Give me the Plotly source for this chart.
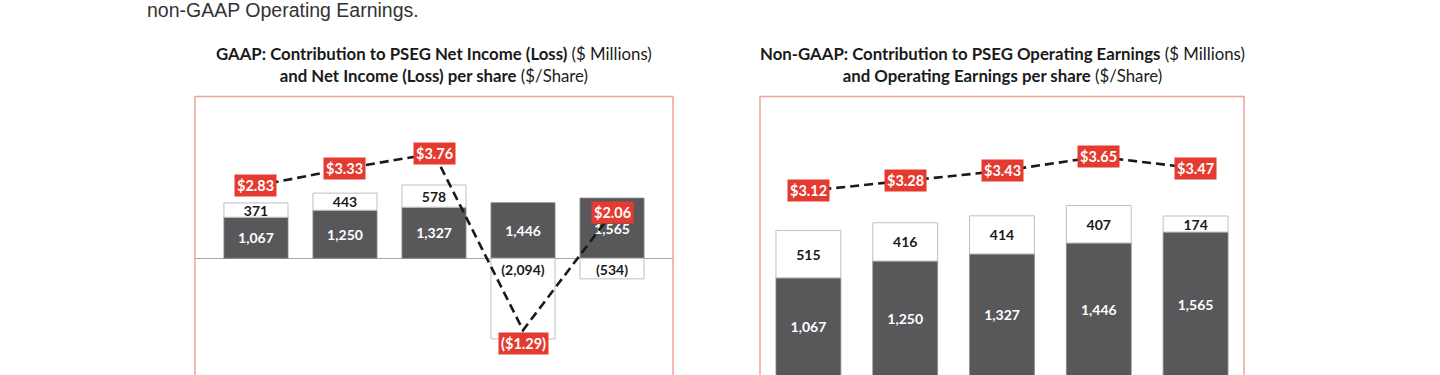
import plotly.graph_objects as go

# ---------------- data ----------------
years = ["2018", "2019", "2020", "2021", "2022"]

# GAAP: contribution to PSEG net income ($ millions)
gaap_pseg = [1067, 1250, 1327, 1446, 1565]
gaap_other = [371, 443, 578, -2094, -534]
gaap_eps = [2.83, 3.33, 3.76, -1.29, 2.06]

# Non-GAAP: contribution to PSEG operating earnings ($ millions)
ng_pseg = [1067, 1250, 1327, 1446, 1565]
ng_other = [515, 416, 414, 407, 174]
ng_eps = [3.12, 3.28, 3.43, 3.65, 3.47]

headline = "non-GAAP Operating Earnings."
title_left = ("<b>GAAP: Contribution to PSEG Net Income (Loss)</b> ($ Millions)<br>"
              "<b>and Net Income (Loss) per share</b> ($/Share)")
title_right = ("<b>Non-GAAP: Contribution to PSEG Operating Earnings</b> ($ Millions)<br>"
               "<b>and Operating Earnings per share</b> ($/Share)")

# ---------------- style ----------------
W, H = 1440, 375
DARK = "#58585A"
RED = "#E53A2F"
BORDER = "#EFA39B"
FONT = "Lato"
LBL = 14


def fmt_m(v):
    return f"({abs(v):,})" if v < 0 else f"{v:,}"


def fmt_eps(v):
    return f"(${abs(v):.2f})" if v < 0 else f"${v:.2f}"


def px_x(p):
    return p / W


def px_y(p):
    return 1 - p / H


fig = go.Figure()

# ---- left (GAAP) ----
fig.add_trace(go.Bar(
    x=years, y=gaap_pseg, xaxis="x", yaxis="y", width=0.72,
    marker=dict(color=DARK, line=dict(color="#8A8A8A", width=0.8)),
    text=[fmt_m(v) for v in gaap_pseg], textposition="inside",
    insidetextanchor="middle", textangle=0,
    textfont=dict(family=FONT, size=LBL, color="white", weight="bold"),
    showlegend=False, hoverinfo="skip"))
fig.add_trace(go.Bar(
    x=years, y=[v if v > 0 else None for v in gaap_other], xaxis="x", yaxis="y", width=0.72,
    marker=dict(color="white", line=dict(color="#BFBFBF", width=1)),
    text=[fmt_m(v) if v > 0 else "" for v in gaap_other], textposition="inside",
    insidetextanchor="middle", textangle=0,
    textfont=dict(family=FONT, size=LBL, color="#1a1a1a", weight="bold"),
    showlegend=False, hoverinfo="skip"))
fig.add_trace(go.Bar(
    x=years, y=[v if v < 0 else None for v in gaap_other], xaxis="x", yaxis="y", width=0.72,
    marker=dict(color="white", line=dict(color="#BFBFBF", width=1)),
    text=[fmt_m(v) if v < 0 else "" for v in gaap_other], textposition="inside",
    insidetextanchor="start", textangle=0,
    textfont=dict(family=FONT, size=LBL, color="#1a1a1a", weight="bold"),
    showlegend=False, hoverinfo="skip"))
fig.add_trace(go.Scatter(
    x=years, y=gaap_eps, xaxis="x", yaxis="y2", mode="lines",
    line=dict(color="#1a1a1a", width=2.6, dash="9px,5px"),
    showlegend=False, hoverinfo="skip"))

# ---- right (Non-GAAP) ----
fig.add_trace(go.Bar(
    x=years, y=ng_pseg, xaxis="x2", yaxis="y3", width=0.67,
    marker=dict(color=DARK, line=dict(color="#8A8A8A", width=0.8)),
    text=[fmt_m(v) for v in ng_pseg], textposition="inside",
    insidetextanchor="middle", textangle=0,
    textfont=dict(family=FONT, size=LBL, color="white", weight="bold"),
    showlegend=False, hoverinfo="skip"))
fig.add_trace(go.Bar(
    x=years, y=ng_other, xaxis="x2", yaxis="y3", width=0.67,
    marker=dict(color="white", line=dict(color="#BFBFBF", width=1)),
    text=[fmt_m(v) for v in ng_other], textposition="inside",
    insidetextanchor="middle", textangle=0,
    textfont=dict(family=FONT, size=LBL, color="#1a1a1a", weight="bold"),
    showlegend=False, hoverinfo="skip"))
fig.add_trace(go.Scatter(
    x=years, y=ng_eps, xaxis="x2", yaxis="y4", mode="lines",
    line=dict(color="#1a1a1a", width=2.6, dash="9px,5px"),
    showlegend=False, hoverinfo="skip"))

annotations = []
for i, v in enumerate(gaap_eps):
    annotations.append(dict(
        x=i, y=v, xref="x", yref="y2", text=fmt_eps(v), showarrow=False,
        bgcolor=RED, borderpad=2, yshift=-13 if v < 0 else 0,
        font=dict(family=FONT, size=14.5, color="white", weight="bold")))
for i, v in enumerate(ng_eps):
    annotations.append(dict(
        x=i, y=v, xref="x2", yref="y4", text=fmt_eps(v), showarrow=False,
        bgcolor=RED, borderpad=2,
        font=dict(family=FONT, size=14.5, color="white", weight="bold")))

annotations.append(dict(
    x=px_x(145), y=1, xref="paper", yref="paper", xanchor="left", yanchor="top",
    yshift=3, text=headline, showarrow=False,
    font=dict(family="Liberation Sans", size=19.5, color="#333333")))
annotations.append(dict(
    x=px_x(434), y=px_y(41), xref="paper", yref="paper", xanchor="center", yanchor="top",
    text=title_left, showarrow=False,
    font=dict(family=FONT, size=16.8, color="#1a1a1a")))
annotations.append(dict(
    x=px_x(1002), y=px_y(41), xref="paper", yref="paper", xanchor="center", yanchor="top",
    text=title_right, showarrow=False,
    font=dict(family=FONT, size=16.8, color="#1a1a1a")))

shapes = [
    dict(type="rect", xref="paper", yref="paper", x0=px_x(195), x1=px_x(673),
         y0=-0.2, y1=px_y(96.5), line=dict(color=BORDER, width=1.5), layer="below"),
    dict(type="rect", xref="paper", yref="paper", x0=px_x(760), x1=px_x(1244),
         y0=-0.2, y1=px_y(96.5), line=dict(color=BORDER, width=1.5), layer="below"),
]

hidden_x = dict(showticklabels=False, showgrid=False, zeroline=False, ticks="",
                type="category", showline=False)
fig.update_layout(
    width=W, height=H, margin=dict(l=0, r=0, t=0, b=0),
    paper_bgcolor="white", plot_bgcolor="rgba(0,0,0,0)",
    barmode="relative", showlegend=False,
    uniformtext=dict(minsize=LBL, mode="show"),
    xaxis=dict(domain=[px_x(195), px_x(673)], range=[-0.685, 4.685], **hidden_x),
    yaxis=dict(domain=[0, 1], range=[-3031, 6709], showticklabels=False, showgrid=False,
               zeroline=True, zerolinecolor="#A6A6A6", zerolinewidth=1),
    yaxis2=dict(overlaying="y", range=[-2.57, 8.144], showticklabels=False,
                showgrid=False, zeroline=False, side="right"),
    xaxis2=dict(domain=[px_x(760), px_x(1244)], range=[-0.5, 4.5], anchor="y3", **hidden_x),
    yaxis3=dict(domain=[0, 1], range=[10.87, 4087], anchor="x2", showticklabels=False,
                showgrid=False, zeroline=False),
    yaxis4=dict(overlaying="y3", anchor="x2", range=[0.240, 6.100], showticklabels=False,
                showgrid=False, zeroline=False, side="right"),
    annotations=annotations, shapes=shapes,
)

fig.write_html("out.html", config={"displayModeBar": False},
               post_script="document.body.style.margin='0';document.body.style.overflow='hidden';")
